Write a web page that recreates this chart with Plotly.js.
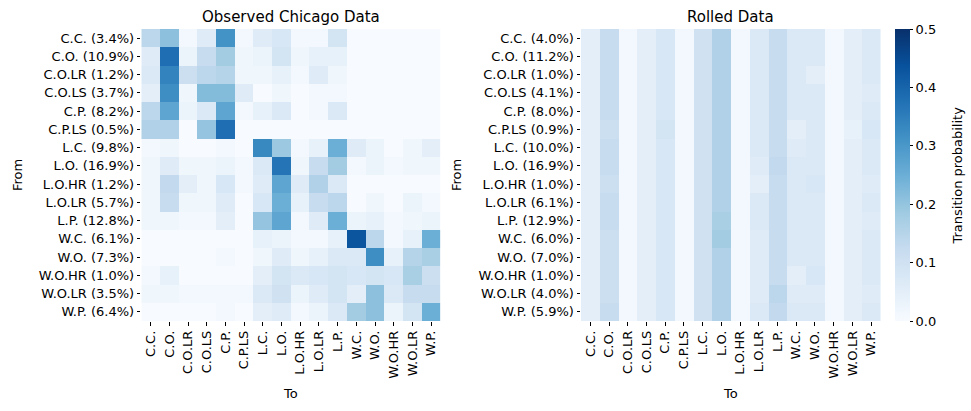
<!DOCTYPE html>
<html>
<head>
<meta charset="utf-8">
<script src="https://cdn.plot.ly/plotly-3.0.1.min.js"></script>
<style>html,body{margin:0;padding:0;background:#fff;}#chart{width:971px;height:411px;}</style>
</head>
<body>
<div id="chart"></div>
<script>
const states = ["C.C.","C.O.","C.O.LR","C.O.LS","C.P.","C.P.LS","L.C.","L.O.","L.O.HR","L.O.LR","L.P.","W.C.","W.O.","W.O.HR","W.O.LR","W.P."];
const observedLabels = ["C.C. (3.4%)","C.O. (10.9%)","C.O.LR (1.2%)","C.O.LS (3.7%)","C.P. (8.2%)","C.P.LS (0.5%)","L.C. (9.8%)","L.O. (16.9%)","L.O.HR (1.2%)","L.O.LR (5.7%)","L.P. (12.8%)","W.C. (6.1%)","W.O. (7.3%)","W.O.HR (1.0%)","W.O.LR (3.5%)","W.P. (6.4%)"];
const rolledLabels = ["C.C. (4.0%)","C.O. (11.2%)","C.O.LR (1.0%)","C.O.LS (4.1%)","C.P. (8.0%)","C.P.LS (0.9%)","L.C. (10.0%)","L.O. (16.9%)","L.O.HR (1.0%)","L.O.LR (6.1%)","L.P. (12.9%)","W.C. (6.0%)","W.O. (7.0%)","W.O.HR (1.0%)","W.O.LR (4.0%)","W.P. (5.9%)"];
const colorbarTicks = [0, 0.1, 0.2, 0.3, 0.4, 0.5];
const colorbarTickText = ["0.0","0.1","0.2","0.3","0.4","0.5"];

const observed = [
  [0.14,0.21,0.01,0.06,0.31,0.01,0.06,0.08,0.01,0.01,0.09,0.00,0.00,0.00,0.00,0.00],
  [0.06,0.38,0.03,0.12,0.18,0.02,0.03,0.09,0.02,0.04,0.04,0.00,0.00,0.00,0.00,0.00],
  [0.07,0.34,0.11,0.14,0.15,0.02,0.02,0.04,0.01,0.06,0.02,0.00,0.00,0.00,0.00,0.00],
  [0.05,0.32,0.02,0.22,0.22,0.06,0.00,0.02,0.00,0.01,0.01,0.00,0.00,0.00,0.00,0.00],
  [0.14,0.27,0.03,0.07,0.27,0.01,0.04,0.07,0.00,0.01,0.07,0.00,0.00,0.00,0.00,0.00],
  [0.16,0.16,0.00,0.20,0.38,0.00,0.00,0.00,0.00,0.00,0.00,0.00,0.00,0.00,0.00,0.00],
  [0.01,0.02,0.00,0.00,0.01,0.00,0.33,0.19,0.01,0.04,0.25,0.06,0.03,0.00,0.02,0.05],
  [0.02,0.06,0.02,0.02,0.03,0.01,0.07,0.37,0.02,0.12,0.18,0.01,0.03,0.01,0.02,0.02],
  [0.02,0.13,0.05,0.02,0.08,0.01,0.06,0.27,0.06,0.16,0.07,0.00,0.00,0.00,0.00,0.00],
  [0.02,0.12,0.02,0.02,0.06,0.00,0.08,0.25,0.04,0.12,0.14,0.00,0.02,0.00,0.03,0.01],
  [0.02,0.02,0.01,0.01,0.05,0.00,0.20,0.27,0.01,0.06,0.25,0.03,0.04,0.01,0.02,0.03],
  [0.00,0.00,0.00,0.00,0.00,0.00,0.04,0.03,0.01,0.01,0.04,0.43,0.14,0.01,0.04,0.25],
  [0.00,0.00,0.00,0.00,0.01,0.00,0.02,0.06,0.02,0.04,0.07,0.07,0.32,0.04,0.15,0.17],
  [0.01,0.04,0.00,0.00,0.00,0.00,0.05,0.09,0.07,0.08,0.09,0.08,0.09,0.08,0.17,0.11],
  [0.02,0.02,0.01,0.01,0.01,0.01,0.07,0.10,0.03,0.06,0.09,0.05,0.21,0.07,0.12,0.12],
  [0.00,0.00,0.00,0.00,0.01,0.00,0.05,0.06,0.01,0.03,0.07,0.18,0.21,0.03,0.09,0.25]
];

const rolled = [
  [0.05,0.12,0.01,0.05,0.08,0.01,0.10,0.16,0.01,0.07,0.12,0.07,0.07,0.01,0.05,0.07],
  [0.05,0.12,0.01,0.05,0.08,0.01,0.10,0.16,0.01,0.07,0.12,0.07,0.07,0.01,0.05,0.07],
  [0.05,0.12,0.01,0.05,0.08,0.01,0.10,0.16,0.01,0.07,0.12,0.07,0.05,0.01,0.05,0.07],
  [0.05,0.12,0.01,0.05,0.08,0.01,0.10,0.16,0.01,0.07,0.12,0.07,0.07,0.01,0.05,0.06],
  [0.05,0.12,0.01,0.05,0.08,0.01,0.10,0.16,0.01,0.07,0.12,0.07,0.07,0.01,0.05,0.07],
  [0.05,0.11,0.01,0.05,0.09,0.01,0.10,0.16,0.01,0.07,0.12,0.05,0.07,0.01,0.04,0.08],
  [0.05,0.12,0.01,0.05,0.08,0.01,0.10,0.16,0.01,0.07,0.12,0.06,0.07,0.01,0.05,0.07],
  [0.05,0.12,0.01,0.05,0.08,0.01,0.10,0.16,0.01,0.06,0.13,0.07,0.07,0.01,0.05,0.07],
  [0.05,0.11,0.01,0.05,0.08,0.01,0.10,0.16,0.01,0.05,0.12,0.07,0.08,0.01,0.05,0.06],
  [0.05,0.12,0.01,0.05,0.08,0.01,0.10,0.16,0.01,0.07,0.12,0.07,0.07,0.01,0.05,0.07],
  [0.05,0.12,0.01,0.05,0.08,0.01,0.10,0.17,0.01,0.07,0.12,0.07,0.07,0.01,0.05,0.06],
  [0.05,0.11,0.01,0.05,0.08,0.01,0.10,0.18,0.01,0.06,0.12,0.07,0.07,0.01,0.05,0.07],
  [0.05,0.11,0.01,0.05,0.08,0.01,0.10,0.16,0.01,0.06,0.12,0.07,0.07,0.01,0.05,0.07],
  [0.05,0.11,0.01,0.05,0.08,0.01,0.10,0.16,0.01,0.06,0.12,0.05,0.08,0.01,0.05,0.07],
  [0.05,0.11,0.01,0.05,0.08,0.01,0.10,0.16,0.01,0.06,0.14,0.06,0.06,0.01,0.05,0.06],
  [0.05,0.12,0.01,0.05,0.08,0.01,0.10,0.16,0.01,0.07,0.13,0.07,0.07,0.01,0.05,0.07]
];

const blues = [
  [0.0,"#f7fbff"],[0.125,"#deebf7"],[0.25,"#c6dbef"],[0.375,"#9ecae1"],
  [0.5,"#6baed6"],[0.625,"#4292c6"],[0.75,"#2171b5"],[0.875,"#08519c"],[1.0,"#08306b"]
];

const FONT = "DejaVu Sans";
const tickFont = {family: FONT, size: 13, color: "#000"};

const traces = [
  {type:"heatmap", x: states, y: observedLabels, z: observed, xaxis:"x", yaxis:"y",
   colorscale: blues, zmin: 0, zmax: 0.5, showscale: false},
  {type:"heatmap", x: states, y: rolledLabels, z: rolled, xaxis:"x2", yaxis:"y2",
   colorscale: blues, zmin: 0, zmax: 0.5, showscale: true,
   colorbar: {x: 895/971, xanchor:"left", xref:"paper", y: 90/411, yanchor:"bottom", len: 292/411, lenmode:"fraction",
     thickness: 15, thicknessmode:"pixels", outlinewidth: 0, xpad: 0, ypad: 0,
     tickvals: colorbarTicks, ticktext: colorbarTickText,
     ticks:"outside", ticklen: 3.5, tickcolor:"#000", tickfont: tickFont,
     title:{text:""}}}
];

function xax(dom){
  return {domain: dom, type:"category", tickangle: -90, ticks:"outside", ticklen: 3.5, tickcolor:"#000",
    tickfont: tickFont, showgrid:false, zeroline:false, showline:false,
    title:{text:"To", font:{family:FONT, size:13, color:"#000"}, standoff: 11}};
}
function yax(anchor){
  return {domain:[90/411, 382/411], type:"category", autorange:"reversed", anchor: anchor,
    ticks:"outside", ticklen: 3.5, tickcolor:"#000", tickfont: tickFont, showgrid:false, zeroline:false, showline:false,
    title:{text:"From", font:{family:FONT, size:13, color:"#000"}, standoff: 13}};
}

const layout = {
  width: 971, height: 411,
  margin: {l:0, r:0, t:0, b:0},
  paper_bgcolor:"#fff", plot_bgcolor:"#fff",
  font: {family: FONT, color:"#000"},
  xaxis: Object.assign(xax([141.3/971, 440.5/971]), {anchor:"y"}),
  yaxis: yax("x"),
  xaxis2: Object.assign(xax([581/971, 880.5/971]), {anchor:"y2"}),
  yaxis2: yax("x2"),
  annotations: [
    {text:"Observed Chicago Data", x: (141.3+440.5)/2/971, y: 1-17/411, xref:"paper", yref:"paper",
     xanchor:"center", yanchor:"middle", showarrow:false, font:{family:FONT, size:15, color:"#000"}},
    {text:"Rolled Data", x: (581+880.5)/2/971, y: 1-17/411, xref:"paper", yref:"paper",
     xanchor:"center", yanchor:"middle", showarrow:false, font:{family:FONT, size:15, color:"#000"}},
    {text:"Transition probability", x: 957/971, y: 1-175.5/411, xref:"paper", yref:"paper",
     xanchor:"center", yanchor:"middle", textangle:-90, showarrow:false, font:{family:FONT, size:13, color:"#000"}}
  ]
};

Plotly.newPlot("chart", traces, layout, {displayModeBar:false, staticPlot:true});
</script>
</body>
</html>
